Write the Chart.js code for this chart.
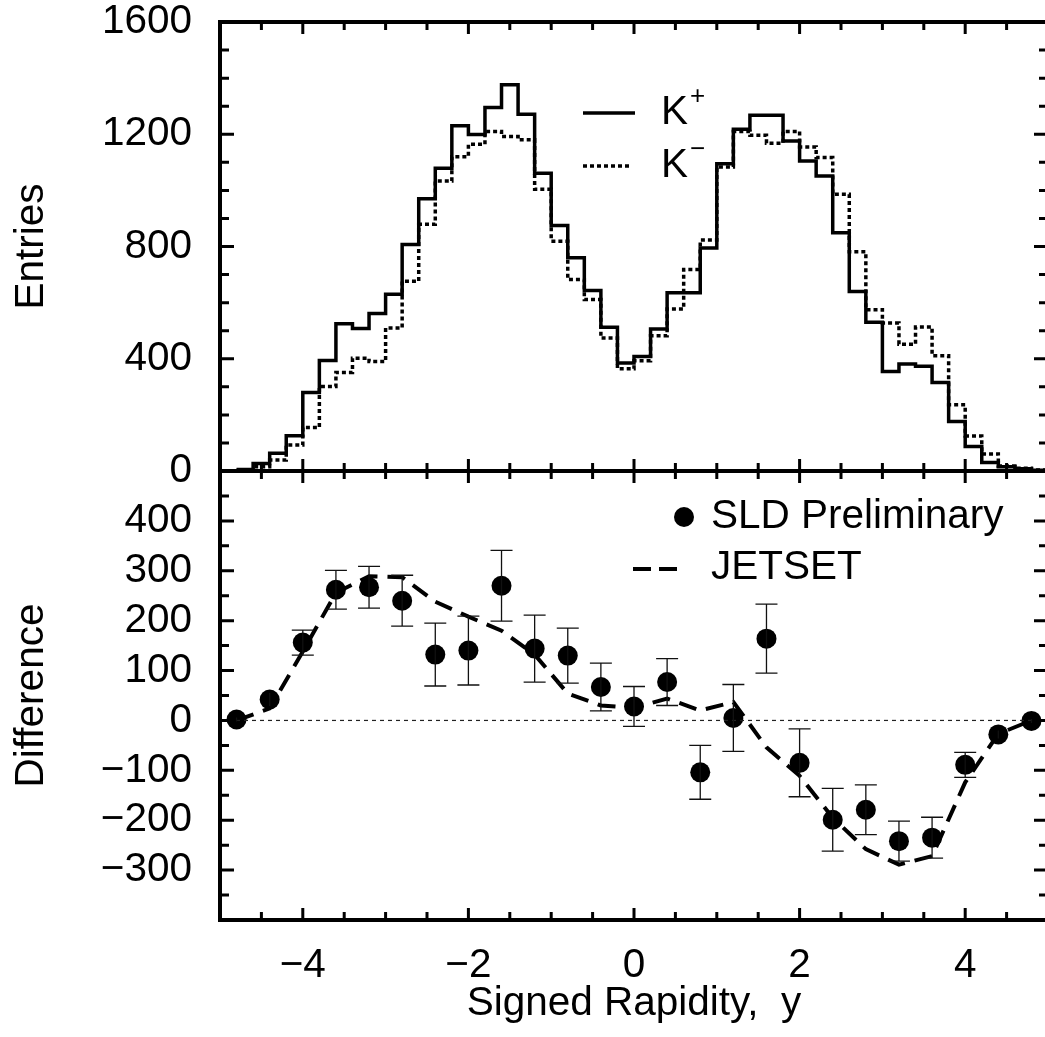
<!DOCTYPE html>
<html>
<head>
<meta charset="utf-8">
<title>Signed rapidity - K+ / K- and difference</title>
<script src="https://cdn.jsdelivr.net/npm/chart.js@4.4.1/dist/chart.umd.min.js"></script>
<style>
	html, body { margin: 0; padding: 0; background: #fff; overflow: hidden; }
	#wrap { width: 1060px; height: 1037px; }
</style>
</head>
<body>
<div id="wrap"><canvas id="rapidity-chart" width="1060" height="1037"></canvas></div>
<script>
"use strict";

// histogram bins: lower edges (bin width 0.2), last bin closes at histEnd
var binLo = [-4.8, -4.6, -4.4, -4.2, -4.0, -3.8, -3.6, -3.4, -3.2, -3.0,
	-2.8, -2.6, -2.4, -2.2, -2.0, -1.8, -1.6, -1.4, -1.2, -1.0,
	-0.8, -0.6, -0.4, -0.2, 0.0, 0.2, 0.4, 0.6, 0.8, 1.0,
	1.2, 1.4, 1.6, 1.8, 2.0, 2.2, 2.4, 2.6, 2.8, 3.0,
	3.2, 3.4, 3.6, 3.8, 4.0, 4.2, 4.4, 4.6, 4.8];
var histEnd = 5.0;

// entries per bin
var kPlus = [5, 27, 63, 126, 280, 394, 525, 508, 561, 630,
	807, 970, 1079, 1230, 1199, 1295, 1376, 1271, 1061, 875,
	760, 643, 512, 385, 408, 506, 635, 635, 795, 1095,
	1218, 1268, 1268, 1176, 1105, 1051, 849, 640, 530, 355,
	381, 373, 315, 176, 87, 30, 15, 8, 3];
var kMinus = [3, 15, 39, 93, 155, 301, 351, 402, 390, 510,
	676, 879, 1033, 1120, 1164, 1210, 1192, 1180, 1004, 819,
	682, 611, 474, 364, 393, 482, 577, 718, 823, 1083,
	1210, 1196, 1168, 1210, 1155, 1117, 986, 781, 575, 527,
	452, 513, 411, 236, 125, 61, 18, 10, 4];

// difference K+ - K-  (SLD preliminary) and JETSET prediction
var diffX = [-4.8, -4.4, -4.0, -3.6, -3.2, -2.8, -2.4, -2.0, -1.6, -1.2, -0.8, -0.4, 0.0,
	0.4, 0.8, 1.2, 1.6, 2.0, 2.4, 2.8, 3.2, 3.6, 4.0, 4.4, 4.8];
var diffVal = [2, 42, 156, 262, 267, 240, 132, 140, 270, 144, 130, 67, 28,
	77, -104, 5, 164, -85, -199, -179, -242, -235, -89, -28, -1];
var diffErr = [4, 13, 25, 39, 42, 51, 63, 69, 71, 67, 55, 48, 40,
	47, 54, 67, 69, 68, 63, 50, 40, 41, 25, 8, 4];
var jetset = [0, 24, 138, 256, 289, 287, 238, 208, 180, 132, 54, 30, 25,
	44, 20, 37, -54, -111, -195, -258, -289, -272, -124, -27, 0];

var xTickVals = [-4, -2, 0, 2, 4];

var FONT = "'Liberation Sans', Arial, Helvetica, sans-serif";


// build step points for a histogram (value holds until next edge)
function histPoints(vals) {
	var pts = binLo.map(function(x, i) { return { x: x, y: vals[i] }; });
	pts.push({ x: histEnd, y: vals[vals.length - 1] });
	return pts;
}

function fmt(v) {
	return v < 0 ? '\u2212' + (-v) : '' + v;
}

// fixed axis boxes, no extra label padding so the plot frame lands where it should
function fixWidth(s) {
	s.width = 220;
	s.paddingTop = 0;
	s.paddingBottom = 0;
}
function fixHeight(s) {
	s.height = 117;
	s.paddingLeft = 0;
	s.paddingRight = 0;
}


// frame, inward ticks, error bars and the two legends
var frameAndTicks = {
	id: 'frameAndTicks',

	afterDatasetsDraw: function(chart) {
		var ctx = chart.ctx;
		var xs = chart.scales.x, yb = chart.scales.yBot;
		ctx.save();
		ctx.strokeStyle = '#111';
		ctx.lineWidth = 1.3;
		ctx.beginPath();
		for (var i = 0; i < diffX.length; i++) {
			var px = xs.getPixelForValue(diffX[i]);
			var hi = yb.getPixelForValue(diffVal[i] + diffErr[i]);
			var lo = yb.getPixelForValue(diffVal[i] - diffErr[i]);
			ctx.moveTo(px, hi); ctx.lineTo(px, lo);
			if (lo - hi > 22) {
				ctx.moveTo(px - 11, hi); ctx.lineTo(px + 11, hi);
				ctx.moveTo(px - 11, lo); ctx.lineTo(px + 11, lo);
			}
		}
		ctx.stroke();
		ctx.restore();
	},

	afterDraw: function(chart) {
		var ctx = chart.ctx, a = chart.chartArea;
		var xs = chart.scales.x, yt = chart.scales.yTop, yb = chart.scales.yBot;
		var mid = yt.bottom;

		function seg(x1, y1, x2, y2) { ctx.moveTo(x1, y1); ctx.lineTo(x2, y2); }

		ctx.save();
		ctx.strokeStyle = '#000';
		ctx.lineWidth = 3;
		ctx.beginPath();

		// y ticks, both panels, left and right frame
		[[yt, 100, 400], [yb, 50, 100]].forEach(function(s) {
			var scale = s[0];
			for (var v = scale.min + s[1]; v < scale.max - 1e-6; v += s[1]) {
				var len = (v % s[2] === 0) ? 14 : 9;
				var p = scale.getPixelForValue(v);
				seg(a.left, p, a.left + len, p);
				seg(a.right, p, a.right - len, p);
			}
		});

		// x ticks: top frame, panel separator, bottom frame
		for (var x = xs.min + 0.5; x < xs.max - 1e-6; x += 0.5) {
			var len = (x % 2 === 0) ? 12 : 8;
			var px = xs.getPixelForValue(x);
			seg(px, a.top, px, a.top + len);
			seg(px, mid - len, px, mid + len);
			seg(px, a.bottom, px, a.bottom - len);
		}
		ctx.stroke();

		// frame and separator
		ctx.lineWidth = 4;
		ctx.strokeRect(a.left, a.top, a.right - a.left, a.bottom - a.top);
		ctx.beginPath();
		seg(a.left, mid, a.right, mid);
		ctx.stroke();

		// top legend
		ctx.fillStyle = '#000';
		ctx.textBaseline = 'middle';
		ctx.textAlign = 'left';
		ctx.lineWidth = 3.5;
		ctx.beginPath(); seg(583, 113, 635, 113); ctx.stroke();
		ctx.setLineDash([4, 3]);
		ctx.beginPath(); seg(583, 166, 632, 166); ctx.stroke();
		ctx.setLineDash([]);
		ctx.font = '40.5px ' + FONT;
		ctx.fillText('K', 661, 113);
		ctx.fillText('K', 661, 166);
		ctx.font = '26px ' + FONT;
		ctx.fillText('+', 690, 97);
		ctx.fillText('\u2212', 690, 150);

		// bottom legend
		ctx.beginPath();
		ctx.arc(684, 517, 10, 0, Math.PI * 2);
		ctx.fill();
		ctx.lineWidth = 4;
		ctx.setLineDash([18, 8]);
		ctx.beginPath(); seg(633, 569, 680, 569); ctx.stroke();
		ctx.setLineDash([]);
		ctx.font = '40.5px ' + FONT;
		ctx.fillText('SLD Preliminary', 711, 517);
		ctx.fillText('JETSET', 711, 568);
		ctx.restore();
	}
};


var tickFontY = { family: FONT, size: 40.5, lineHeight: 1 };
var tickFontX = { family: FONT, size: 40.5, lineHeight: 1.2 };
var titleFont = { family: FONT, size: 40.5, lineHeight: 1.2 };

var rapidityChart = new Chart(document.getElementById('rapidity-chart'), {
	type: 'line',
	data: {
		datasets: [{
			label: 'K+',
			data: histPoints(kPlus),
			yAxisID: 'yTop',
			stepped: 'before',
			borderColor: '#000',
			borderWidth: 3.5,
			pointRadius: 0,
			fill: false
		}, {
			label: 'K-',
			data: histPoints(kMinus),
			yAxisID: 'yTop',
			stepped: 'before',
			borderColor: '#000',
			borderWidth: 3.5,
			borderDash: [4, 3],
			pointRadius: 0,
			fill: false
		}, {
			label: 'zero',
			data: [{ x: -5, y: 0 }, { x: 5, y: 0 }],
			yAxisID: 'yBot',
			borderColor: '#222',
			borderWidth: 1.2,
			borderDash: [4, 4],
			pointRadius: 0,
			fill: false
		}, {
			label: 'JETSET',
			data: diffX.map(function(x, i) { return { x: x, y: jetset[i] }; }),
			yAxisID: 'yBot',
			borderColor: '#000',
			borderWidth: 4,
			borderDash: [18, 10],
			tension: 0,
			pointRadius: 0,
			fill: false
		}, {
			label: 'SLD Preliminary',
			data: diffX.map(function(x, i) { return { x: x, y: diffVal[i] }; }),
			yAxisID: 'yBot',
			showLine: false,
			pointRadius: 10,
			pointBackgroundColor: '#000',
			pointBorderWidth: 0
		}]
	},
	options: {
		responsive: false,
		animation: false,
		devicePixelRatio: 1,
		layout: { padding: { top: 22, right: 12, bottom: 0, left: 0 } },
		plugins: {
			legend: { display: false },
			tooltip: { enabled: false }
		},
		scales: {
			x: {
				type: 'linear',
				position: 'bottom',
				min: -5,
				max: 5,
				grid: { display: false, drawTicks: false },
				border: { display: false },
				afterBuildTicks: function(s) { s.ticks = xTickVals.map(function(v) { return { value: v }; }); },
				afterFit: fixHeight,
				ticks: { autoSkip: false, maxRotation: 0, font: tickFontX, color: '#000', padding: 22, callback: fmt },
				title: { display: true, text: 'Signed Rapidity,  y', font: titleFont, color: '#000', padding: { top: 0, bottom: 9 } }
			},
			yTop: {
				type: 'linear',
				position: 'left',
				stack: 'panels',
				stackWeight: 1,
				weight: 1,
				min: 0,
				max: 1600,
				grid: { display: false, drawTicks: false },
				border: { display: false },
				afterFit: fixWidth,
				ticks: { stepSize: 400, autoSkip: false, font: tickFontY, color: '#000', padding: 28, callback: fmt },
				title: { display: true, text: 'Entries', font: titleFont, color: '#000', padding: { top: 8, bottom: 0 } }
			},
			yBot: {
				type: 'linear',
				position: 'left',
				stack: 'panels',
				stackWeight: 1,
				weight: 0,
				min: -400,
				max: 500,
				grid: { display: false, drawTicks: false },
				border: { display: false },
				afterFit: fixWidth,
				ticks: {
					stepSize: 100, autoSkip: false, font: tickFontY, color: '#000', padding: 28,
					callback: function(v) { return (v === -400 || v === 500) ? '' : fmt(v); }
				},
				title: { display: true, text: 'Difference', font: titleFont, color: '#000', padding: { top: 8, bottom: 0 } }
			}
		}
	},
	plugins: [frameAndTicks]
});
</script>
</body>
</html>
